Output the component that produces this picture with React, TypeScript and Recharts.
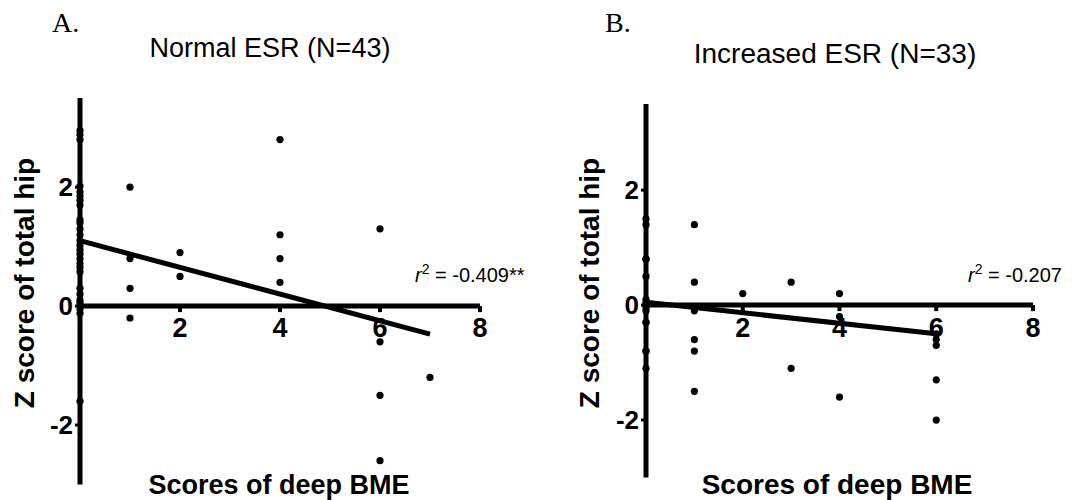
import React from "react";
import {
  ScatterChart,
  Scatter,
  XAxis,
  YAxis,
  ReferenceLine,
  ReferenceDot,
} from "recharts";

const SANS = '"Liberation Sans", Arial, sans-serif';
const SERIF = '"Liberation Serif", "Times New Roman", serif';

const xTicks = [2, 4, 6, 8];
const yTicks = [-2, 0, 2];

// A. Normal ESR (N=43)
const normalScore = [
  0, 0, 0, 0, 0, 0, 0, 0, 0, 0, 0, 0, 0, 0, 0, 0, 0, 0, 0, 0, 0, 0, 0, 0, 0, 0, 0, 0,
  1, 1, 1, 1,
  2, 2,
  4, 4, 4, 4,
  6, 6, 6, 6,
  7,
];
const normalZ = [
  2.95, 2.88, 2.8, 2.02, 1.92, 1.85, 1.78, 1.7, 1.45, 1.4, 1.3, 1.2, 1.1, 1.02,
  0.95, 0.88, 0.8, 0.72, 0.65, 0.58, 0.3, 0.2, 0.1, 0.05, 0.0, -0.05, -0.12, -1.6,
  2.0, 0.8, 0.3, -0.2,
  0.9, 0.5,
  2.8, 1.2, 0.8, 0.4,
  1.3, -0.6, -1.5, -2.6,
  -1.2,
];
const normalFitScore = [0, 7];
const normalFitZ = [1.1, -0.47];

// B. Increased ESR (N=33)
const increasedScore = [
  0, 0, 0, 0, 0, 0, 0, 0, 0, 0, 0, 0, 0, 0, 0, 0,
  1, 1, 1, 1, 1, 1,
  2,
  3, 3,
  4, 4, 4,
  6, 6, 6, 6, 6,
];
const increasedZ = [
  1.5, 1.4, 0.8, 0.8, 0.5, 0.1, 0.05, 0, 0, -0.05, -0.1, -0.3, -0.3, -0.8, -0.8, -1.1,
  1.4, 0.4, -0.1, -0.6, -0.8, -1.5,
  0.2,
  0.4, -1.1,
  0.2, -0.2, -1.6,
  -0.5, -0.6, -0.7, -1.3, -2.0,
];
const increasedFitScore = [0, 6];
const increasedFitZ = [0.05, -0.5];

const toPoints = (xs: number[], ys: number[]) => xs.map((x, i) => ({ x, y: ys[i] }));

const dot = (p: any) => <circle cx={p.cx} cy={p.cy} r={3.6} fill="#000" />;

const Y_AXIS_W = 60;

interface PanelProps {
  left: number;
  width: number;
  margin: { top: number; right: number; bottom: number; left: number };
  points: { x: number; y: number }[];
  fit: { x: number; y: number }[];
  xLabelDy: number;
}

function Panel({ left, width, margin, points, fit, xLabelDy }: PanelProps) {
  return (
    <div style={{ position: "absolute", left, top: 0 }}>
      <ScatterChart width={width} height={500} margin={{ ...margin, left: margin.left - Y_AXIS_W }}>
        <XAxis type="number" dataKey="x" domain={[0, 8]} hide />
        <YAxis
          type="number"
          dataKey="y"
          domain={[-3, 3.5]}
          ticks={yTicks}
          width={Y_AXIS_W}
          axisLine={{ stroke: "#000", strokeWidth: 5 }}
          tickLine={{ stroke: "#000", strokeWidth: 3 }}
          tickSize={5}
          tickMargin={2}
          tick={{ fontSize: 26, fontWeight: "bold", fill: "#000", fontFamily: SANS }}
        />
        <ReferenceLine y={0} stroke="#000" strokeWidth={5} />
        {xTicks.map((t) => (
          <ReferenceDot
            key={t}
            x={t}
            y={0}
            shape={(p: any) => (
              <g>
                <line x1={p.cx} y1={p.cy} x2={p.cx} y2={p.cy + 6} stroke="#000" strokeWidth={4} />
                <text
                  x={p.cx}
                  y={p.cy + xLabelDy}
                  textAnchor="middle"
                  fontSize={27}
                  fontWeight="bold"
                  fontFamily={SANS}
                  fill="#000"
                >
                  {t}
                </text>
              </g>
            )}
          />
        ))}
        <ReferenceLine segment={fit} stroke="#000" strokeWidth={5} />
        <Scatter data={points} fill="#000" shape={dot} isAnimationActive={false} />
      </ScatterChart>
    </div>
  );
}

const text = (s: React.CSSProperties): React.CSSProperties => ({
  position: "absolute",
  whiteSpace: "nowrap",
  lineHeight: 1,
  color: "#000",
  fontFamily: SANS,
  ...s,
});

export default function App() {
  return (
    <div style={{ position: "absolute", left: 0, top: 0, width: 1077, height: 500, background: "#fff", overflow: "hidden" }}>
      <Panel
        left={0}
        width={540}
        margin={{ top: 98, right: 60, bottom: 15.5, left: 80 }}
        points={toPoints(normalScore, normalZ)}
        fit={toPoints(normalFitScore, normalFitZ)}
        xLabelDy={31}
      />
      <Panel
        left={560}
        width={517}
        margin={{ top: 104, right: 44, bottom: 22.5, left: 86 }}
        points={toPoints(increasedScore, increasedZ)}
        fit={toPoints(increasedFitScore, increasedFitZ)}
        xLabelDy={32}
      />

      <div style={text({ left: 52, top: 8.5, fontSize: 28, fontFamily: SERIF })}>A.</div>
      <div style={text({ left: 605, top: 8.5, fontSize: 28, fontFamily: SERIF })}>B.</div>
      <div style={text({ left: 270, top: 35, fontSize: 27, transform: "translateX(-50%)" })}>
        Normal ESR (N=43)
      </div>
      <div style={text({ left: 835, top: 39.5, fontSize: 28, transform: "translateX(-50%)" })}>
        Increased ESR (N=33)
      </div>

      <div style={text({ left: 25, top: 283, fontSize: 28, fontWeight: "bold", transform: "translate(-50%, -50%) rotate(-90deg)" })}>
        Z score of total hip
      </div>
      <div style={text({ left: 590, top: 283, fontSize: 28, fontWeight: "bold", transform: "translate(-50%, -50%) rotate(-90deg)" })}>
        Z score of total hip
      </div>

      <div style={text({ left: 279, top: 472, fontSize: 27, fontWeight: "bold", transform: "translateX(-50%)" })}>
        Scores of deep BME
      </div>
      <div style={text({ left: 837, top: 471, fontSize: 28, fontWeight: "bold", transform: "translateX(-50%)" })}>
        Scores of deep BME
      </div>

      <div style={text({ left: 415, top: 265, fontSize: 20 })}>
        <i>r</i>
        <sup style={{ fontSize: "0.7em", lineHeight: 0 }}>2</sup> = -0.409**
      </div>
      <div style={text({ left: 968, top: 265, fontSize: 20 })}>
        <i>r</i>
        <sup style={{ fontSize: "0.7em", lineHeight: 0 }}>2</sup> = -0.207
      </div>
    </div>
  );
}
